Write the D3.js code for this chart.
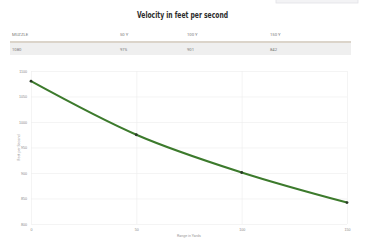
<!DOCTYPE html>
<html lang="en">
<head>
    <meta charset="utf-8">
    <title>Velocity</title>
    <script type="text/javascript" src="https://d3js.org/d3.v7.min.js"></script>
    <style>
        body { margin: 0; background: #fff; }
        svg { display: block; font-family: Roboto, "Liberation Sans", sans-serif; }
        .grid line { stroke: #ececec; stroke-width: 0.6; }
        .grid path { display: none; }
        .axis text { fill: #888; font-size: 3.6px; }
        .axis path, .axis line { display: none; }
    </style>
</head>
<body>
    <div id="chart"></div>
    <script type="text/javascript">
        // table + chart data
        const columns = ["MUZZLE", "50 Y", "100 Y", "150 Y"];
        const ranges = [0, 50, 100, 150];
        const velocity = [1080, 975, 901, 842];
        const yTicks = [800, 850, 900, 950, 1000, 1050, 1100];

        const width = 365;
        const height = 240;
        const margin = {left: 31, right: 18, top: 71, bottom: 16};

        const svg = d3.select("#chart")
            .append("svg")
            .attr("width", width)
            .attr("height", height);

        // little shadowed box top right
        svg.append("rect")
            .attr("x", 276).attr("y", -2)
            .attr("width", 82).attr("height", 5)
            .attr("fill", "#f3f3f5")
            .attr("stroke", "#e2e2e6")
            .attr("stroke-width", 0.8);

        svg.append("text")
            .attr("x", 182.5)
            .attr("y", 18)
            .attr("text-anchor", "middle")
            .attr("font-family", "'DejaVu Sans Condensed', 'Liberation Sans Narrow', sans-serif")
            .attr("font-weight", "bold")
            .attr("font-size", 9.5)
            .attr("textLength", 91)
            .attr("lengthAdjust", "spacingAndGlyphs")
            .attr("fill", "#2b2b2b")
            .text("Velocity in feet per second");

        // table
        const colX = d3.scaleOrdinal().domain(columns).range([12, 120, 187, 270]);

        svg.append("rect")
            .attr("x", 10).attr("y", 43)
            .attr("width", 341).attr("height", 12)
            .attr("fill", "#efefef");

        svg.append("line")
            .attr("x1", 10).attr("x2", 351)
            .attr("y1", 42).attr("y2", 42)
            .attr("stroke", "#cfc6b8")
            .attr("stroke-width", 1.4);

        svg.selectAll(".th")
            .data(columns)
            .enter()
            .append("text")
                .attr("class", "th")
                .attr("x", d => colX(d))
                .attr("y", 36)
                .attr("font-size", 4.2)
                .attr("fill", "#777")
                .text(d => d);

        svg.selectAll(".td")
            .data(velocity)
            .enter()
            .append("text")
                .attr("class", "td")
                .attr("x", (d, i) => colX(columns[i]))
                .attr("y", 50.5)
                .attr("font-size", 4.2)
                .attr("fill", "#777")
                .text(d => d);

        // chart
        const xScale = d3.scaleLinear()
            .domain([0, 150])
            .range([margin.left, width - margin.right]);
        const yScale = d3.scaleLinear()
            .domain([800, 1100])
            .range([height - margin.bottom, margin.top]);

        svg.append("g")
            .attr("class", "grid")
            .attr("transform", "translate(0," + (height - margin.bottom) + ")")
            .call(d3.axisBottom(xScale).tickValues(ranges).tickSize(-(height - margin.bottom - margin.top)).tickFormat(""));

        svg.append("g")
            .attr("class", "grid")
            .attr("transform", "translate(" + margin.left + ",0)")
            .call(d3.axisLeft(yScale).tickValues(yTicks).tickSize(-(width - margin.right - margin.left)).tickFormat(""));

        svg.append("g")
            .attr("class", "axis x")
            .attr("transform", "translate(0," + (height - margin.bottom + 1) + ")")
            .call(d3.axisBottom(xScale).tickValues(ranges).tickSize(0).tickPadding(3).tickFormat(d3.format("d")));

        svg.append("g")
            .attr("class", "axis y")
            .attr("transform", "translate(" + margin.left + ",0)")
            .call(d3.axisLeft(yScale).tickValues(yTicks).tickSize(0).tickPadding(4).tickFormat(d3.format("d")));

        svg.append("text")
            .attr("x", (margin.left + width - margin.right) / 2)
            .attr("y", 236.5)
            .attr("text-anchor", "middle")
            .attr("font-size", 3.6)
            .attr("fill", "#999")
            .text("Range in Yards");

        svg.append("text")
            .attr("transform", "translate(20," + ((margin.top + height - margin.bottom) / 2) + ") rotate(-90)")
            .attr("text-anchor", "middle")
            .attr("font-size", 3.6)
            .attr("fill", "#999")
            .text("Feet per Second");

        const pts = ranges.map((r, i) => ({r: r, v: velocity[i]}));

        const line = d3.line()
            .x(d => xScale(d.r))
            .y(d => yScale(d.v))
            .curve(d3.curveMonotoneX);

        svg.append("path")
            .datum(pts)
            .attr("fill", "none")
            .attr("stroke", "#3c7a2c")
            .attr("stroke-width", 2)
            .attr("d", line);

        svg.selectAll(".dot")
            .data(pts)
            .enter()
            .append("circle")
                .attr("class", "dot")
                .attr("cx", d => xScale(d.r))
                .attr("cy", d => yScale(d.v))
                .attr("r", 1.4)
                .attr("fill", "#2a3a28");
    </script>
</body>
</html>
